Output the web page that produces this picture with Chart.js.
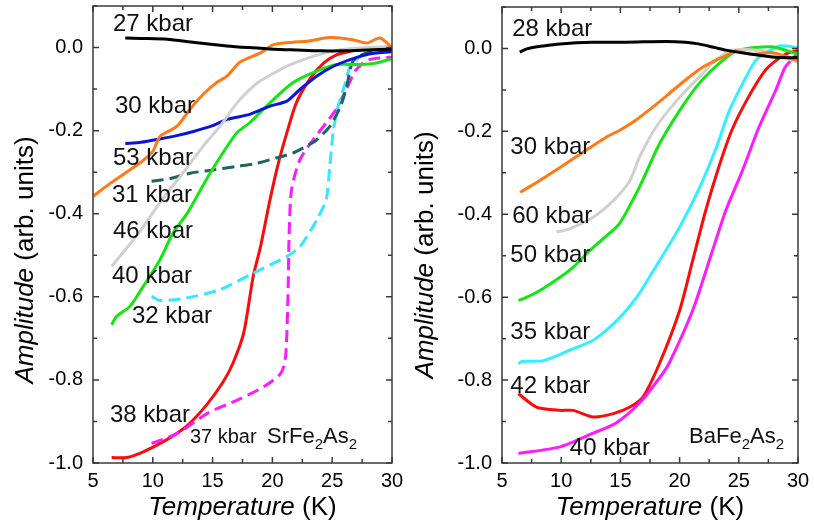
<!DOCTYPE html>
<html>
<head>
<meta charset="utf-8">
<script src="https://cdn.jsdelivr.net/npm/chart.js@4.4.1/dist/chart.umd.min.js"></script>
<style>
  body { margin: 0; background: #fff; }
  #wrap { position: relative; width: 814px; height: 526px; }
  canvas { position: absolute; top: 0; }
  #srChart { left: 0; }
  #baChart { left: 405px; }
</style>
</head>
<body>
<div id="wrap">
  <canvas id="srChart" width="405" height="526"></canvas>
  <canvas id="baChart" width="409" height="526"></canvas>
</div>
<script>
const FONT = '"Liberation Sans", Arial, sans-serif';

// tick labels
const xTicks = [5, 10, 15, 20, 25, 30];
const yTicks = [-1.0, -0.8, -0.6, -0.4, -0.2, 0.0];

// SrFe2As2 curves, [temperature K, amplitude]
const sr27 = [[7.7,0.023],[9,0.022],[11.2,0.02],[13.5,0.012],[16.2,0.004],[18,0.0],[20.1,-0.004],[22,-0.006],[24,-0.008],[26,-0.008],[28,-0.006],[30,-0.004]];
const sr30 = [[5.0,-0.358],[6.3,-0.33],[7.7,-0.302],[9,-0.276],[10.0,-0.25],[10.6,-0.214],[12.0,-0.19],[13.1,-0.149],[14.2,-0.113],[15.3,-0.085],[16.2,-0.069],[17.3,-0.035],[19.0,-0.013],[20.1,0.007],[21.7,0.013],[22.9,0.015],[24.8,0.024],[26.7,0.019],[27.9,0.011],[29.0,0.023],[30,0.0]];
const sr46 = [[6.56,-0.527],[7.8,-0.483],[9,-0.44],[10.0,-0.398],[11.2,-0.35],[12.3,-0.31],[14.2,-0.238],[15.6,-0.19],[17.0,-0.135],[18.1,-0.101],[19.0,-0.08],[20.1,-0.062],[21.2,-0.045],[22.9,-0.026],[24.3,-0.014],[25.7,-0.005],[28,0.0],[30,0.003]];
const sr53 = [[7.7,-0.231],[9,-0.228],[10.6,-0.22],[12,-0.212],[13.4,-0.202],[15,-0.188],[16.2,-0.173],[18.1,-0.161],[19.8,-0.141],[21.2,-0.129],[22.3,-0.101],[23.7,-0.069],[25.1,-0.045],[26.5,-0.029],[28,-0.016],[30,-0.01]];
const sr31 = [[9.9,-0.322],[11.5,-0.315],[13.2,-0.302],[15,-0.295],[17.0,-0.286],[18.5,-0.28],[20.3,-0.266],[21.7,-0.254],[23.0,-0.235],[23.7,-0.222],[24.8,-0.19],[25.7,-0.141],[26.2,-0.095],[26.5,-0.053],[26.8,-0.03],[27.9,-0.013],[30,-0.009]];
const sr40 = [[9.9,-0.599],[10.6,-0.609],[12.8,-0.603],[15.6,-0.583],[18.4,-0.543],[21.2,-0.503],[22.3,-0.479],[23.2,-0.44],[23.8,-0.41],[24.5,-0.366],[24.8,-0.286],[25.1,-0.198],[25.5,-0.141],[26.1,-0.085],[26.6,-0.04],[27.9,-0.013],[30,-0.009]];
const sr32 = [[6.56,-0.667],[6.97,-0.647],[8.09,-0.623],[9.2,-0.575],[10.6,-0.511],[11.7,-0.446],[12.9,-0.398],[14.8,-0.302],[17.0,-0.206],[18.1,-0.181],[19.8,-0.133],[21.7,-0.085],[23.7,-0.057],[25.4,-0.041],[27.3,-0.041],[28.7,-0.037],[30,-0.027]];
const sr38 = [[6.56,-0.987],[7.8,-0.987],[9.2,-0.973],[11.1,-0.945],[12.8,-0.912],[14.5,-0.86],[15.9,-0.804],[16.7,-0.76],[17.6,-0.687],[18.4,-0.55],[19.0,-0.48],[19.8,-0.366],[20.5,-0.278],[21.2,-0.206],[22.0,-0.133],[23.1,-0.077],[24.3,-0.037],[25.4,-0.017],[26.5,-0.009],[28,-0.002],[30,-0.001]];
const sr37 = [[9.9,-0.953],[12.1,-0.928],[14.6,-0.88],[17.1,-0.848],[19.3,-0.816],[20.7,-0.784],[21.1,-0.744],[21.3,-0.6],[21.4,-0.45],[21.6,-0.342],[22.3,-0.27],[23.4,-0.222],[24.5,-0.181],[25.3,-0.15],[26.2,-0.1],[27.0,-0.053],[28.1,-0.029],[30,-0.023]];

// BaFe2As2 curves
const ba28 = [[6.5,-0.009],[7.1,-0.001],[8.5,0.006],[9.9,0.011],[12.7,0.015],[15.5,0.015],[18.9,0.017],[20.5,0.015],[21.6,0.011],[23.0,0.002],[23.9,-0.004],[26.1,-0.014],[28.4,-0.022],[30,-0.022]];
const ba30 = [[6.54,-0.347],[8,-0.322],[9.05,-0.303],[9.9,-0.287],[11.6,-0.255],[13.8,-0.214],[14.9,-0.198],[16.2,-0.175],[17.7,-0.142],[18.9,-0.114],[20.5,-0.076],[21.9,-0.046],[23.1,-0.028],[23.9,-0.018],[24.7,-0.006],[26.1,-0.014],[27.8,-0.01],[29,-0.02],[30,-0.03]];
const ba60 = [[9.6,-0.443],[10.7,-0.435],[12.7,-0.407],[14.4,-0.367],[15.8,-0.319],[16.6,-0.263],[18.0,-0.19],[20.0,-0.118],[21.9,-0.062],[22.8,-0.034],[24.4,-0.005],[26.7,-0.005],[28.4,-0.017],[30,-0.034]];
const ba50 = [[6.39,-0.608],[7.1,-0.6],[8.2,-0.584],[9.9,-0.552],[11.0,-0.528],[12.4,-0.488],[13.5,-0.46],[14.9,-0.423],[16.6,-0.335],[18.3,-0.23],[20.0,-0.15],[21.6,-0.086],[23.6,-0.03],[25.0,-0.004],[27.8,0.004],[30,-0.014]];
const ba35 = [[6.39,-0.761],[6.7,-0.755],[8.5,-0.753],[10.7,-0.728],[12.7,-0.704],[14.2,-0.67],[15.4,-0.635],[16.5,-0.595],[17.7,-0.54],[20.0,-0.431],[21.7,-0.335],[23.1,-0.239],[24.2,-0.15],[25.3,-0.086],[26.4,-0.03],[27.3,-0.01],[28.4,0.006],[30,0.002]];
const ba42 = [[6.39,-0.833],[7.9,-0.865],[9.9,-0.873],[11.0,-0.873],[12.7,-0.889],[14.4,-0.881],[15.8,-0.865],[16.9,-0.841],[18.3,-0.76],[20.0,-0.632],[21.1,-0.512],[22.2,-0.391],[23.3,-0.287],[24.4,-0.198],[25.8,-0.118],[27.2,-0.054],[28.1,-0.03],[29,-0.013],[30,-0.004]];
const ba40 = [[6.39,-0.977],[9.9,-0.961],[12.7,-0.928],[14.6,-0.904],[16.6,-0.856],[18.3,-0.795],[19.1,-0.76],[21.1,-0.632],[22.5,-0.512],[23.9,-0.391],[25.3,-0.295],[26.7,-0.19],[28.1,-0.102],[28.9,-0.046],[29.5,-0.026],[30,-0.01]];

// curve labels placed in data coordinates
const srLabels = [
  { text: '27 kbar', t: 6.67, a: 0.039 },
  { text: '30 kbar', t: 6.84, a: -0.157 },
  { text: '53 kbar', t: 6.67, a: -0.282 },
  { text: '31 kbar', t: 6.59, a: -0.371 },
  { text: '46 kbar', t: 6.67, a: -0.458 },
  { text: '40 kbar', t: 6.59, a: -0.566 },
  { text: '32 kbar', t: 8.26, a: -0.663 },
  { text: '38 kbar', t: 6.42, a: -0.901 },
  { text: '37 kbar', t: 13.1, a: -0.952, size: 20 }
];
const baLabels = [
  { text: '28 kbar', t: 5.86, a: 0.031 },
  { text: '30 kbar', t: 5.70, a: -0.254 },
  { text: '60 kbar', t: 5.86, a: -0.422 },
  { text: '50 kbar', t: 5.70, a: -0.516 },
  { text: '35 kbar', t: 5.70, a: -0.700 },
  { text: '42 kbar', t: 5.70, a: -0.832 },
  { text: '40 kbar', t: 10.73, a: -0.981 }
];

function series(points, color, dashed) {
  return {
    data: points.map(p => ({ x: p[0], y: p[1] })),
    borderColor: color,
    borderWidth: 3,
    borderDash: dashed ? [12, 6] : [],
    pointRadius: 0,
    tension: 0.25,
    fill: false
  };
}

function drawMixed(ctx, parts, x, y) {
  // parts: [text, italic], centred on x
  let total = 0;
  parts.forEach(p => {
    ctx.font = (p[1] ? 'italic ' : '') + '26px ' + FONT;
    total += ctx.measureText(p[0]).width;
  });
  let cx = x - total / 2;
  parts.forEach(p => {
    ctx.font = (p[1] ? 'italic ' : '') + '26px ' + FONT;
    ctx.fillText(p[0], cx, y);
    cx += ctx.measureText(p[0]).width;
  });
}

function drawFormula(ctx, parts, x, y) {
  let cx = x;
  parts.forEach(p => {
    const sub = /^\d+$/.test(p);
    ctx.font = (sub ? '15px ' : '22px ') + FONT;
    ctx.fillText(p, cx, sub ? y + 6 : y);
    cx += ctx.measureText(p).width;
  });
}

const frame = {
  id: 'frame',
  afterDatasetsDraw(chart, args, opts) {
    const { ctx, chartArea: a, scales: { x, y } } = chart;
    ctx.save();
    ctx.strokeStyle = '#3a3a3a';
    ctx.lineWidth = 1.5;
    ctx.setLineDash([]);
    ctx.strokeRect(a.left, a.top, a.right - a.left, a.bottom - a.top);

    // inward ticks on all four sides
    ctx.beginPath();
    for (let i = 0; i <= 10; i++) {
      const px = x.getPixelForValue(5 + i * 2.5);
      const len = i % 2 === 0 ? 6 : 4;
      ctx.moveTo(px, a.bottom); ctx.lineTo(px, a.bottom - len);
      ctx.moveTo(px, a.top); ctx.lineTo(px, a.top + len);
    }
    for (let i = 0; i <= 11; i++) {
      const py = y.getPixelForValue(-1 + i * 0.1);
      const len = i % 2 === 0 ? 6 : 4;
      ctx.moveTo(a.left, py); ctx.lineTo(a.left + len, py);
      ctx.moveTo(a.right, py); ctx.lineTo(a.right - len, py);
    }
    ctx.stroke();

    // curve labels
    ctx.fillStyle = '#111';
    ctx.textBaseline = 'alphabetic';
    ctx.textAlign = 'left';
    opts.labels.forEach(l => {
      ctx.font = (l.size || 24) + 'px ' + FONT;
      ctx.fillText(l.text, x.getPixelForValue(l.t), y.getPixelForValue(l.a));
    });
    drawFormula(ctx, opts.formula, x.getPixelForValue(opts.formulaAt[0]), y.getPixelForValue(opts.formulaAt[1]));

    // axis titles
    ctx.fillStyle = '#000';
    drawMixed(ctx, [['Temperature', true], [' (K)', false]], (a.left + a.right) / 2, 515);
    ctx.translate(opts.yTitleX, opts.yTitleY);
    ctx.rotate(-Math.PI / 2);
    drawMixed(ctx, [['Amplitude', true], [' (arb. units)', false]], 0, 0);
    ctx.restore();
  }
};

function makeChart(id, datasets, axisWidth, pad, plugOpts) {
  return new Chart(document.getElementById(id), {
    type: 'line',
    data: { datasets: datasets },
    options: {
      responsive: false,
      animation: false,
      devicePixelRatio: 1,
      layout: { padding: pad },
      plugins: {
        legend: { display: false },
        tooltip: { enabled: false },
        frame: plugOpts
      },
      scales: {
        x: {
          type: 'linear',
          min: 5,
          max: 30,
          afterBuildTicks: s => { s.ticks = xTicks.map(v => ({ value: v })); },
          afterFit: s => { s.height = 63; s.paddingLeft = 0; s.paddingRight = 0; },
          grid: { display: false, drawTicks: false },
          border: { display: false },
          ticks: { color: '#000', padding: 6, maxRotation: 0, font: { family: FONT, size: 20 }, callback: v => String(v) }
        },
        y: {
          type: 'linear',
          min: -1.0,
          max: 0.1,
          afterBuildTicks: s => { s.ticks = yTicks.map(v => ({ value: v })); },
          afterFit: s => { s.width = axisWidth; s.paddingTop = 0; s.paddingBottom = 0; },
          grid: { display: false, drawTicks: false },
          border: { display: false },
          ticks: { color: '#000', padding: 10, font: { family: FONT, size: 20 }, callback: v => v.toFixed(1) }
        }
      }
    },
    plugins: [frame]
  });
}

makeChart('srChart', [
  series(sr27, '#000000'),
  series(sr30, '#ff7a14'),
  series(sr46, '#d0d0d0'),
  series(sr53, '#0a14dc'),
  series(sr32, '#14e614'),
  series(sr31, '#1d6464', true),
  series(sr40, '#33e8ff', true),
  series(sr37, '#ff1aff', true),
  series(sr38, '#ff0a0a')
], 93, { top: 6, right: 13, left: 0, bottom: 0 }, {
  labels: srLabels,
  formula: ['SrFe', '2', 'As', '2'],
  formulaAt: [19.55, -0.952],
  yTitleX: 33,
  yTitleY: 260
});

makeChart('baChart', [
  series(ba28, '#000000'),
  series(ba30, '#ff7a14'),
  series(ba60, '#d0d0d0'),
  series(ba50, '#14e614'),
  series(ba35, '#33f0ff'),
  series(ba40, '#ff1aff'),
  series(ba42, '#ff0a0a')
], 97, { top: 7, right: 16, left: 0, bottom: 0 }, {
  labels: baLabels,
  formula: ['BaFe', '2', 'As', '2'],
  formulaAt: [20.8, -0.952],
  yTitleX: 28,
  yTitleY: 255
});
</script>
</body>
</html>
